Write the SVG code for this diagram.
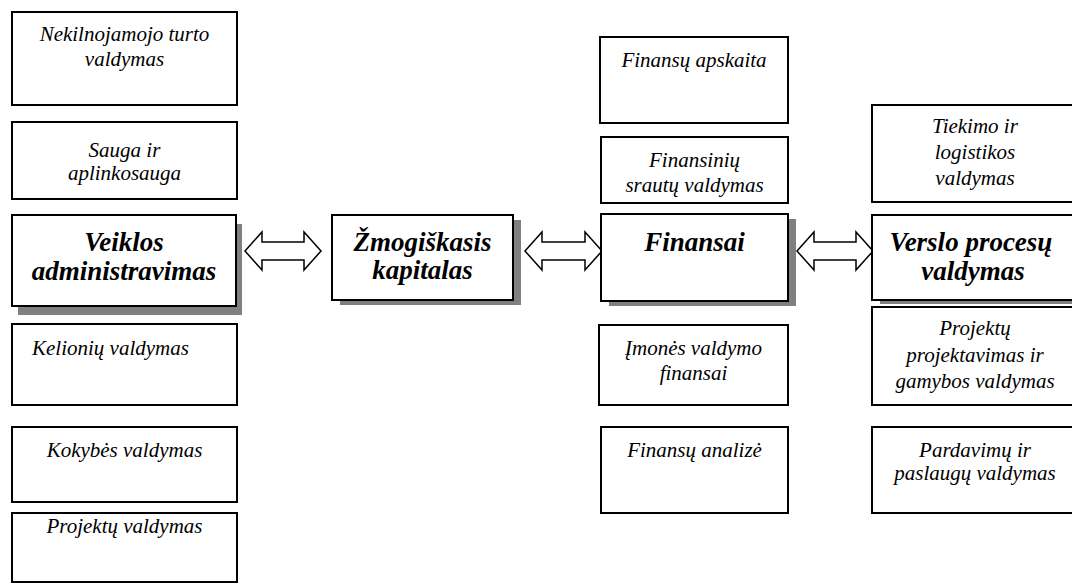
<svg xmlns="http://www.w3.org/2000/svg" width="1072" height="584" viewBox="0 0 1072 584">
<rect width="1072" height="584" fill="#fff"/>
<g id="connectors" fill="#fff" stroke="#000" stroke-width="1.5">
<path d="M245,251 L262,232 L262,242 L304,242 L304,232 L321,251 L304,270 L304,260 L262,260 L262,270 Z"/>
<path d="M525,251 L542,232 L542,242 L585,242 L585,232 L602,251 L585,270 L585,260 L542,260 L542,270 Z"/>
<path d="M797,251 L814,232 L814,242 L856,242 L856,232 L873,251 L856,270 L856,260 L814,260 L814,270 Z"/>
</g>
<g id="nekilnojamojo">
<rect x="12" y="12" width="225" height="93" fill="#fff" stroke="#000" stroke-width="2"/>
<text font-family="serif" font-style="italic" font-size="21" text-anchor="middle" x="124.5" y="41">Nekilnojamojo turto</text>
<text font-family="serif" font-style="italic" font-size="21" text-anchor="middle" x="124.5" y="66">valdymas</text>
</g>
<g id="sauga">
<rect x="12" y="122" width="225" height="77" fill="#fff" stroke="#000" stroke-width="2"/>
<text font-family="serif" font-style="italic" font-size="21" text-anchor="middle" x="124.5" y="157">Sauga ir</text>
<text font-family="serif" font-style="italic" font-size="21" text-anchor="middle" x="124.5" y="180">aplinkosauga</text>
</g>
<g id="veiklos">
<rect x="18" y="224" width="224" height="91" fill="#808080"/>
<rect x="12" y="215" width="224" height="91" fill="#fff" stroke="#000" stroke-width="2"/>
<text font-family="serif" font-style="italic" font-weight="bold" font-size="27" text-anchor="middle" x="124" y="251">Veiklos</text>
<text font-family="serif" font-style="italic" font-weight="bold" font-size="27" text-anchor="middle" x="124" y="280">administravimas</text>
</g>
<g id="kelioniu">
<rect x="12" y="324" width="225" height="81" fill="#fff" stroke="#000" stroke-width="2"/>
<text font-family="serif" font-style="italic" font-size="21" x="32" y="355">Kelionių valdymas</text>
</g>
<g id="kokybes">
<rect x="12" y="427" width="225" height="75" fill="#fff" stroke="#000" stroke-width="2"/>
<text font-family="serif" font-style="italic" font-size="21" text-anchor="middle" x="124.5" y="457">Kokybės valdymas</text>
</g>
<g id="projektu">
<rect x="12" y="513" width="225" height="69" fill="#fff" stroke="#000" stroke-width="2"/>
<text font-family="serif" font-style="italic" font-size="21" text-anchor="middle" x="124.5" y="533">Projektų valdymas</text>
</g>
<g id="zmogiskasis">
<rect x="340" y="220" width="181" height="85" fill="#808080"/>
<rect x="332" y="215" width="181" height="85" fill="#fff" stroke="#000" stroke-width="2"/>
<text font-family="serif" font-style="italic" font-weight="bold" font-size="27" text-anchor="middle" x="422.5" y="251">Žmogiškasis</text>
<text font-family="serif" font-style="italic" font-weight="bold" font-size="27" text-anchor="middle" x="422.5" y="279">kapitalas</text>
</g>
<g id="finansu-apskaita">
<rect x="600" y="37" width="188" height="86" fill="#fff" stroke="#000" stroke-width="2"/>
<text font-family="serif" font-style="italic" font-size="21" text-anchor="middle" x="694" y="67">Finansų apskaita</text>
</g>
<g id="finansiniu-srautu">
<rect x="601" y="137" width="187" height="66" fill="#fff" stroke="#000" stroke-width="2"/>
<text font-family="serif" font-style="italic" font-size="21" text-anchor="middle" x="694.5" y="167">Finansinių</text>
<text font-family="serif" font-style="italic" font-size="21" text-anchor="middle" x="694.5" y="192">srautų valdymas</text>
</g>
<g id="finansai">
<rect x="609" y="219" width="187" height="87" fill="#808080"/>
<rect x="601" y="214" width="187" height="87" fill="#fff" stroke="#000" stroke-width="2"/>
<text font-family="serif" font-style="italic" font-weight="bold" font-size="27" text-anchor="middle" x="694.5" y="251">Finansai</text>
</g>
<g id="imones">
<rect x="599" y="325" width="189" height="80" fill="#fff" stroke="#000" stroke-width="2"/>
<text font-family="serif" font-style="italic" font-size="21" text-anchor="middle" x="693.5" y="355">Įmonės valdymo</text>
<text font-family="serif" font-style="italic" font-size="21" text-anchor="middle" x="693.5" y="380">finansai</text>
</g>
<g id="finansu-analize">
<rect x="601" y="427" width="187" height="86" fill="#fff" stroke="#000" stroke-width="2"/>
<text font-family="serif" font-style="italic" font-size="21" text-anchor="middle" x="694.5" y="457">Finansų analizė</text>
</g>
<g id="tiekimo">
<rect x="872" y="105" width="206" height="97" fill="#fff" stroke="#000" stroke-width="2"/>
<text font-family="serif" font-style="italic" font-size="21" text-anchor="middle" x="975" y="133">Tiekimo ir</text>
<text font-family="serif" font-style="italic" font-size="21" text-anchor="middle" x="975" y="159">logistikos</text>
<text font-family="serif" font-style="italic" font-size="21" text-anchor="middle" x="975" y="185">valdymas</text>
</g>
<g id="verslo">
<rect x="880" y="219" width="206" height="85" fill="#808080"/>
<rect x="872" y="215" width="206" height="85" fill="#fff" stroke="#000" stroke-width="2"/>
<text font-family="serif" font-style="italic" font-weight="bold" font-size="27" text-anchor="middle" x="971" y="251">Verslo procesų</text>
<text font-family="serif" font-style="italic" font-weight="bold" font-size="27" text-anchor="middle" x="973" y="280">valdymas</text>
</g>
<g id="projektu-projektavimas">
<rect x="872" y="307" width="206" height="98" fill="#fff" stroke="#000" stroke-width="2"/>
<text font-family="serif" font-style="italic" font-size="21" text-anchor="middle" x="975" y="335">Projektų</text>
<text font-family="serif" font-style="italic" font-size="21" text-anchor="middle" x="975" y="362">projektavimas ir</text>
<text font-family="serif" font-style="italic" font-size="21" text-anchor="middle" x="975" y="388">gamybos valdymas</text>
</g>
<g id="pardavimu">
<rect x="872" y="427" width="206" height="86" fill="#fff" stroke="#000" stroke-width="2"/>
<text font-family="serif" font-style="italic" font-size="21" text-anchor="middle" x="975" y="457">Pardavimų ir</text>
<text font-family="serif" font-style="italic" font-size="21" text-anchor="middle" x="975" y="480">paslaugų valdymas</text>
</g>
</svg>
